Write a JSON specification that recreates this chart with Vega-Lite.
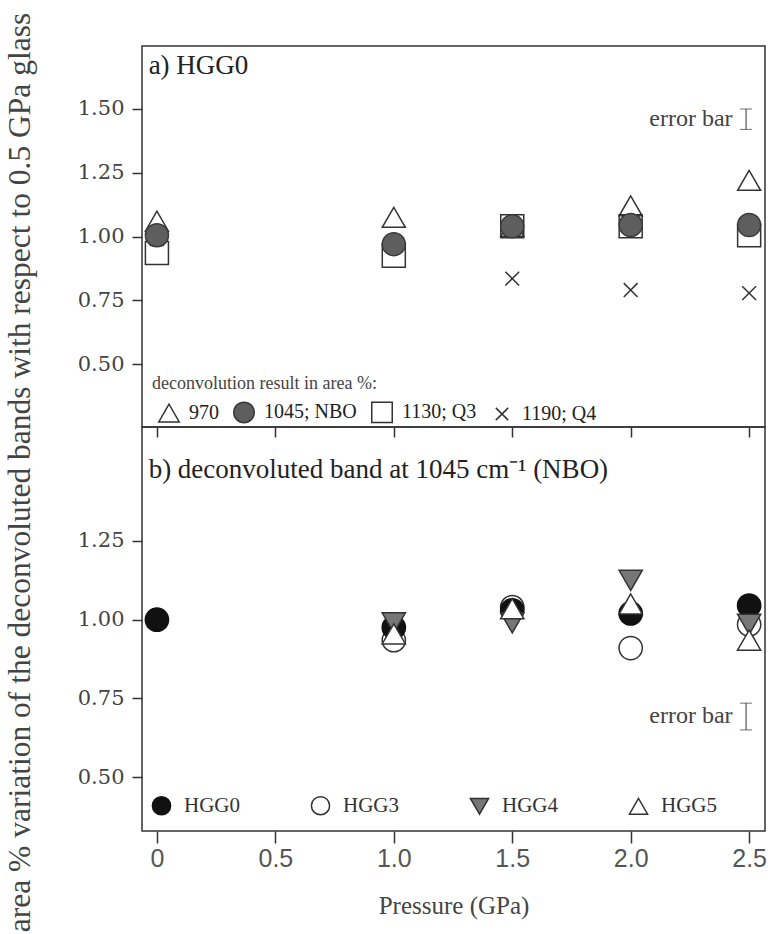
{
  "$schema": "https://vega.github.io/schema/vega-lite/v6.json",
  "padding": {"left": 3, "top": 11, "right": 0, "bottom": 0},
  "background": "white",
  "spacing": 0,
  "bounds": "flush",
  "resolve": {
    "scale": {"shape": "independent", "fill": "independent", "stroke": "independent", "y": "independent"},
    "legend": {"shape": "independent", "fill": "independent", "stroke": "independent"}
  },
  "config": {
    "view": {"stroke": "#333", "strokeWidth": 1.5},
    "font": "Liberation Serif",
    "axis": {"domain": false, "grid": false, "tickColor": "#333", "tickWidth": 1.5}
  },
  "datasets": {
    "bands": [
      {"p": 0, "v": 1.06, "band": "970"},
      {"p": 1.0, "v": 1.075, "band": "970"},
      {"p": 1.5, "v": 1.04, "band": "970"},
      {"p": 2.0, "v": 1.12, "band": "970"},
      {"p": 2.5, "v": 1.22, "band": "970"},
      {"p": 0, "v": 0.935, "band": "1130; Q3"},
      {"p": 1.0, "v": 0.925, "band": "1130; Q3"},
      {"p": 1.5, "v": 1.04, "band": "1130; Q3"},
      {"p": 2.0, "v": 1.04, "band": "1130; Q3"},
      {"p": 2.5, "v": 1.005, "band": "1130; Q3"},
      {"p": 0, "v": 0.99, "band": "1190; Q4"},
      {"p": 1.0, "v": 0.96, "band": "1190; Q4"},
      {"p": 1.5, "v": 0.835, "band": "1190; Q4"},
      {"p": 2.0, "v": 0.79, "band": "1190; Q4"},
      {"p": 2.5, "v": 0.778, "band": "1190; Q4"},
      {"p": 0, "v": 1.005, "band": "1045; NBO"},
      {"p": 1.0, "v": 0.97, "band": "1045; NBO"},
      {"p": 1.5, "v": 1.04, "band": "1045; NBO"},
      {"p": 2.0, "v": 1.045, "band": "1045; NBO"},
      {"p": 2.5, "v": 1.045, "band": "1045; NBO"}
    ],
    "glasses": [
      {"p": 1.0, "v": 0.935, "glass": "HGG3"},
      {"p": 1.5, "v": 1.04, "glass": "HGG3"},
      {"p": 2.0, "v": 0.91, "glass": "HGG3"},
      {"p": 2.5, "v": 0.985, "glass": "HGG3"},
      {"p": 0, "v": 1.0, "glass": "HGG0"},
      {"p": 1.0, "v": 0.975, "glass": "HGG0"},
      {"p": 1.5, "v": 1.03, "glass": "HGG0"},
      {"p": 2.0, "v": 1.02, "glass": "HGG0"},
      {"p": 2.5, "v": 1.045, "glass": "HGG0"},
      {"p": 1.0, "v": 0.99, "glass": "HGG4"},
      {"p": 1.5, "v": 0.99, "glass": "HGG4"},
      {"p": 2.0, "v": 1.125, "glass": "HGG4"},
      {"p": 2.5, "v": 0.985, "glass": "HGG4"},
      {"p": 1.0, "v": 0.955, "glass": "HGG5"},
      {"p": 1.5, "v": 1.035, "glass": "HGG5"},
      {"p": 2.0, "v": 1.05, "glass": "HGG5"},
      {"p": 2.5, "v": 0.935, "glass": "HGG5"}
    ]
  },
  "vconcat": [
    {
      "width": 623,
      "height": 381,
      "encoding": {
        "x": {"field": "p", "type": "quantitative", "scale": {"domain": [-0.063, 2.567], "nice": false, "zero": false},
          "axis": {"labels": false, "tickSize": 10, "values": [0, 0.5, 1, 1.5, 2, 2.5], "title": null}},
        "y": {"field": "v", "type": "quantitative", "scale": {"domain": [0.253, 1.747], "nice": false, "zero": false},
          "axis": {"values": [0.5, 0.75, 1.0, 1.25, 1.5], "format": ".2f", "tickSize": 10, "labelFont": "DejaVu Serif", "labelFontSize": 21, "labelColor": "#444", "labelPadding": 8,
            "title": "area % variation of the deconvoluted bands with respect to 0.5 GPa glass",
            "titleFont": "Liberation Serif", "titleFontSize": 31.5, "titleFontWeight": "normal", "titleColor": "#444",
            "titleX": -106, "titleY": 426, "titleAngle": 270, "titleAlign": "center", "titleBaseline": "bottom"}}
      },
      "layer": [
        {
          "mark": {"type": "rule", "color": "#555", "strokeWidth": 2},
          "encoding": {"y": {"datum": 1}, "x": null}
        },
        {
          "data": {"name": "bands"},
          "mark": {"type": "point", "opacity": 1, "strokeWidth": 1.5},
          "encoding": {
            "shape": {"field": "band", "type": "nominal",
              "scale": {"domain": ["970", "1045; NBO", "1130; Q3", "1190; Q4"], "range": ["triangle-up", "circle", "square", "M-0.6,-0.6L0.6,0.6M-0.6,0.6L0.6,-0.6"]},
              "legend": {"orient": "none", "legendX": 10, "legendY": 329, "direction": "horizontal", "columns": 4,
                "title": "deconvolution result in area %:", "titleFont": "Liberation Serif", "titleFontSize": 18, "titleFontWeight": "normal", "titleColor": "#444", "titlePadding": 8, "titleLimit": 500,
                "labelFont": "Liberation Serif", "labelFontSize": 20, "labelColor": "#222", "labelOffset": 9, "columnPadding": 8,
                "symbolSize": 420, "symbolStrokeWidth": 1.5, "symbolOffset": 6}},
            "size": {"value": 530},
            "fill": {"field": "band", "type": "nominal",
              "scale": {"domain": ["970", "1045; NBO", "1130; Q3", "1190; Q4"], "range": ["transparent", "#5e5e5e", "transparent", "transparent"]}},
            "stroke": {"field": "band", "type": "nominal",
              "scale": {"domain": ["970", "1045; NBO", "1130; Q3", "1190; Q4"], "range": ["#333", "#3a3a3a", "#333", "#333"]}}
          }
        },
        {
          "data": {"values": [{"p": 2.487, "v": 1.42, "v2": 1.50}]},
          "mark": {"type": "errorbar", "ticks": {"size": 12, "color": "#333", "strokeWidth": 1.5}, "color": "#333", "strokeWidth": 1.5},
          "encoding": {"y2": {"field": "v2"}}
        },
        {
          "data": {"values": [{"p": 2.43, "v": 1.462, "label": "error bar"}]},
          "mark": {"type": "text", "align": "right", "baseline": "middle", "font": "Liberation Serif", "fontSize": 24, "color": "#444"},
          "encoding": {"text": {"field": "label"}}
        },
        {
          "data": {"values": [{"p": -0.035, "v": 1.637, "label": "a) HGG0"}]},
          "mark": {"type": "text", "align": "left", "baseline": "alphabetic", "font": "Liberation Serif", "fontSize": 27, "color": "#222"},
          "encoding": {"text": {"field": "label"}}
        }
      ]
    },
    {
      "width": 623,
      "height": 404,
      "encoding": {
        "x": {"field": "p", "type": "quantitative", "scale": {"domain": [-0.063, 2.567], "nice": false, "zero": false},
          "axis": {"tickSize": 12, "values": [0, 0.5, 1, 1.5, 2, 2.5], "labelExpr": "datum.value == 0 ? '0' : format(datum.value, '.1f')",
            "labelFont": "Liberation Sans", "labelFontSize": 25, "labelColor": "#555", "labelPadding": 3,
            "title": "Pressure (GPa)", "titleFont": "Liberation Serif", "titleFontSize": 25, "titleFontWeight": "normal", "titleColor": "#444", "titlePadding": 22}},
        "y": {"field": "v", "type": "quantitative", "scale": {"domain": [0.329, 1.612], "nice": false, "zero": false},
          "axis": {"values": [0.5, 0.75, 1.0, 1.25], "format": ".2f", "tickSize": 10, "labelFont": "DejaVu Serif", "labelFontSize": 21, "labelColor": "#444", "labelPadding": 8, "title": null}}
      },
      "layer": [
        {
          "mark": {"type": "rule", "color": "#555", "strokeWidth": 2},
          "encoding": {"y": {"datum": 1}, "x": null}
        },
        {
          "data": {"name": "glasses"},
          "mark": {"type": "point", "opacity": 1, "strokeWidth": 1.5},
          "encoding": {
            "shape": {"field": "glass", "type": "nominal",
              "scale": {"domain": ["HGG0", "HGG3", "HGG4", "HGG5"], "range": ["circle", "circle", "triangle-down", "triangle-up"]},
              "legend": {"orient": "none", "legendX": 1, "legendY": 368, "direction": "horizontal", "columns": 4, "title": null,
                "labelFont": "Liberation Serif", "labelFontSize": 21, "labelColor": "#333", "labelOffset": 12, "columnPadding": 62,
                "symbolSize": 330, "symbolStrokeWidth": 1.5, "symbolOffset": 8}},
            "size": {"value": 540},
            "fill": {"field": "glass", "type": "nominal",
              "scale": {"domain": ["HGG0", "HGG3", "HGG4", "HGG5"], "range": ["#111", "white", "#777", "white"]}},
            "stroke": {"field": "glass", "type": "nominal",
              "scale": {"domain": ["HGG0", "HGG3", "HGG4", "HGG5"], "range": ["#111", "#333", "#333", "#333"]}}
          }
        },
        {
          "data": {"values": [{"p": 2.487, "v": 0.65, "v2": 0.735}]},
          "mark": {"type": "errorbar", "ticks": {"size": 12, "color": "#333", "strokeWidth": 1.5}, "color": "#333", "strokeWidth": 1.5},
          "encoding": {"y2": {"field": "v2"}}
        },
        {
          "data": {"values": [{"p": 2.43, "v": 0.693, "label": "error bar"}]},
          "mark": {"type": "text", "align": "right", "baseline": "middle", "font": "Liberation Serif", "fontSize": 24, "color": "#444"},
          "encoding": {"text": {"field": "label"}}
        },
        {
          "data": {"values": [{"p": -0.035, "v": 1.45, "label": "b) deconvoluted band at 1045 cm⁻¹ (NBO)"}]},
          "mark": {"type": "text", "align": "left", "baseline": "alphabetic", "font": "Liberation Serif", "fontSize": 27, "color": "#222"},
          "encoding": {"text": {"field": "label"}}
        }
      ]
    }
  ]
}
